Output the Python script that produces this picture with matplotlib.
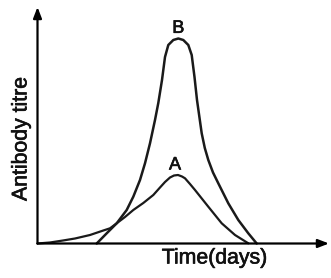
import matplotlib
matplotlib.use("Agg")
import matplotlib.pyplot as plt
import matplotlib.patheffects as pe

# Time (arbitrary units) and antibody titre (arbitrary units)
time_b = [5.92, 6.92, 7.92, 8.92, 9.58, 10.25, 10.75, 11.25, 11.75, 12.08, 12.45, 12.75,
          13.08, 13.58, 14.08, 14.58, 15.08, 15.42, 15.7, 15.95, 16.42, 16.73, 17.08,
          17.55, 18.08, 19.08, 20.08, 21.08, 21.92]
titre_b = [0.0, 1.02, 2.02, 3.35, 4.68, 6.35, 8.02, 10.02, 12.35, 14.05, 16.35, 18.65,
           19.85, 20.35, 20.5, 20.35, 19.85, 18.85, 16.65, 14.35, 11.02, 9.55, 8.35,
           7.1, 6.02, 4.02, 2.35, 1.02, 0.0]
time_a = [0.0, 1.25, 2.55, 3.75, 5.25, 6.58, 7.25, 7.92, 8.75, 9.58, 10.58, 11.58, 12.25, 12.75,
          13.25, 13.65, 14.05, 14.45, 14.75, 15.25, 15.75, 17.08, 18.42, 19.75, 21.08]
titre_a = [0.0, 0.1, 0.3, 0.5, 0.85, 1.3, 1.52, 2.02, 2.65, 3.35, 4.05, 4.85, 5.6, 6.15,
           6.6, 6.8, 6.85, 6.7, 6.52, 5.95, 5.35, 3.68, 2.02, 0.85, 0.02]
labels = ["A", "B"]

W, H = 331, 278
fig = plt.figure(figsize=(W / 100, H / 100), dpi=100)
ax = fig.add_axes([37.5 / W, (H - 243.5) / H, (329 - 37.5) / W, (243.5 - 7) / H])
ax.set_xlim(0, 29.15)
ax.set_ylim(0, 23.65)
for s in ax.spines.values():
    s.set_visible(False)
ax.set_xticks([])
ax.set_yticks([])
ax.patch.set_alpha(0)

col = "#1a1a1a"
ax.plot(time_b, titre_b, color=col, lw=1.8, solid_capstyle="round", solid_joinstyle="round", clip_on=False)
ax.plot(time_a, titre_a, color=col, lw=1.6, solid_capstyle="round", solid_joinstyle="round", clip_on=False)

# axes with arrows
ax.annotate("", xy=(1.0, 0), xytext=(0, 0), xycoords="axes fraction",
            arrowprops=dict(arrowstyle="-|>,head_length=0.65,head_width=0.25", color="black", lw=1.6,
                            shrinkA=0, shrinkB=0))
ax.annotate("", xy=(0, 1.0), xytext=(0, 0), xycoords="axes fraction",
            arrowprops=dict(arrowstyle="-|>,head_length=0.65,head_width=0.25", color="black", lw=1.6,
                            shrinkA=0, shrinkB=0))

font = ["Liberation Sans", "DejaVu Sans"]
thick = [pe.withStroke(linewidth=0.45, foreground="#111111")]
fig.text(175 / W, 1 - 165 / H, labels[0], ha="center", va="center",
         fontsize=13, family=font, color="#111111", path_effects=thick)
fig.text(178.3 / W, 1 - 28.3 / H, labels[1], ha="center", va="center",
         fontsize=13, family=font, color="#111111", path_effects=thick)

fig.text(214.5 / W, 1 - 258 / H, "Time(days)", ha="center", va="center",
         fontsize=15.3, family=font, color="#111111", path_effects=thick)
fig.text(21 / W, 1 - 139 / H, "Antibody titre", ha="center", va="center", rotation=90,
         fontsize=15.3, family=font, color="#111111", path_effects=thick)

fig.savefig("out.png", dpi=100)
